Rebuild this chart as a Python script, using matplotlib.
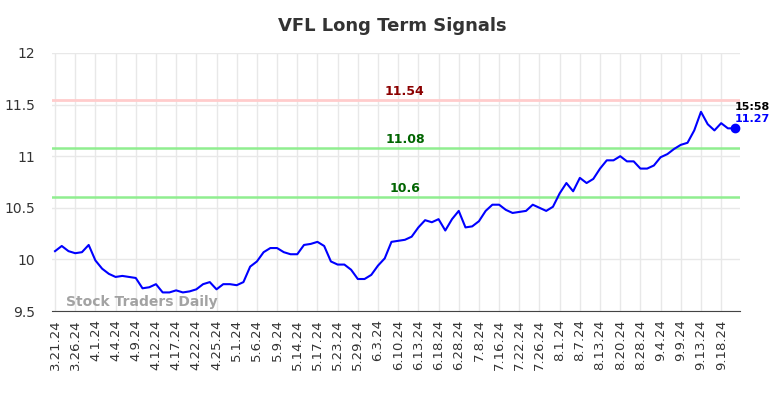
import matplotlib
matplotlib.use('Agg')
import matplotlib.pyplot as plt
import numpy as np

# Closing prices, one per trading day
prices = [
  10.08, 10.13, 10.08, 10.06, 10.07, 10.14, 9.99, 9.91, 9.86, 9.83,
  9.84, 9.83, 9.82, 9.72, 9.73, 9.76, 9.68, 9.68, 9.70, 9.68,
  9.69, 9.71, 9.76, 9.78, 9.71, 9.76, 9.76, 9.75, 9.78, 9.93,
  9.98, 10.07, 10.11, 10.11, 10.07, 10.05, 10.05, 10.14, 10.15, 10.17,
  10.13, 9.98, 9.95, 9.95, 9.90, 9.81, 9.81, 9.85, 9.94, 10.01,
  10.17, 10.18, 10.19, 10.22, 10.31, 10.38, 10.36, 10.39, 10.28, 10.39,
  10.47, 10.31, 10.32, 10.37, 10.47, 10.53, 10.53, 10.48, 10.45, 10.46,
  10.47, 10.53, 10.50, 10.47, 10.51, 10.64, 10.74, 10.66, 10.79, 10.74,
  10.78, 10.88, 10.96, 10.96, 11.00, 10.95, 10.95, 10.88, 10.88, 10.91,
  10.99, 11.02, 11.07, 11.11, 11.13, 11.25, 11.43, 11.31, 11.25, 11.32,
  11.27, 11.27,
]

# One label every 3 trading days
tick_labels = [
  '3.21.24', '3.26.24', '4.1.24', '4.4.24', '4.9.24', '4.12.24', '4.17.24',
  '4.22.24', '4.25.24', '5.1.24', '5.6.24', '5.9.24', '5.14.24', '5.17.24',
  '5.23.24', '5.29.24', '6.3.24', '6.10.24', '6.13.24', '6.18.24', '6.28.24',
  '7.8.24', '7.16.24', '7.22.24', '7.26.24', '8.1.24', '8.7.24', '8.13.24',
  '8.20.24', '8.28.24', '9.4.24', '9.9.24', '9.13.24', '9.18.24',
]

# Signal levels
resistance = 11.54
supports = [11.08, 10.6]
last_time = '15:58'

fig = plt.figure(figsize=(7.84, 3.98), dpi=100)
ax = fig.add_axes([52 / 784, 1 - 311 / 398, 688 / 784, 258 / 398])

x = np.arange(len(prices))
tick_pos = x[::3][:len(tick_labels)]

ax.axhline(resistance, color='#ffcccc', lw=2.0, zorder=2)
for s in supports:
  ax.axhline(s, color='#90ee90', lw=1.8, zorder=2)

ax.plot(x, prices, color='blue', lw=1.5, zorder=3)
ax.plot(x[-1], prices[-1], 'o', color='blue', ms=6, zorder=4)

mid = 52
ax.text(mid, resistance + 0.02, '11.54', color='#8b0000', fontsize=9,
        fontweight='bold', ha='center', va='bottom')
ax.text(mid, supports[0] + 0.02, '11.08', color='#006400', fontsize=9,
        fontweight='bold', ha='center', va='bottom')
ax.text(mid, supports[1] + 0.02, '10.6', color='#006400', fontsize=9,
        fontweight='bold', ha='center', va='bottom')

ax.text(x[-1], prices[-1] + 0.16, last_time, color='black', fontsize=8,
        fontweight='bold', ha='left', va='bottom')
ax.text(x[-1], prices[-1] + 0.04, '%.2f' % prices[-1], color='blue', fontsize=8,
        fontweight='bold', ha='left', va='bottom')

ax.text(1.6, 9.515, 'Stock Traders Daily', color='#999999', fontsize=10,
        fontweight='bold', ha='left', va='bottom', alpha=0.9)

ax.set_xlim(-0.45, 101.8)
ax.set_ylim(9.5, 12)
ax.set_yticks([9.5, 10, 10.5, 11, 11.5, 12])
ax.set_yticklabels(['9.5', '10', '10.5', '11', '11.5', '12'])
ax.set_xticks(tick_pos)
ax.set_xticklabels(tick_labels, rotation=90)
ax.tick_params(axis='both', length=0, colors='#333333', labelsize=9.5)
ax.tick_params(axis='y', pad=12, labelsize=10)
ax.tick_params(axis='x', pad=6)

ax.grid(True, color='#e8e8e8', lw=1)
ax.set_axisbelow(True)
for side in ['top', 'right', 'left']:
  ax.spines[side].set_visible(False)
ax.spines['bottom'].set_color('#444444')

fig.text(0.5, 1 - 26 / 398, 'VFL Long Term Signals', ha='center', va='center',
         fontsize=13, fontweight='bold', color='#333333')

fig.savefig('out.png', dpi=100)
